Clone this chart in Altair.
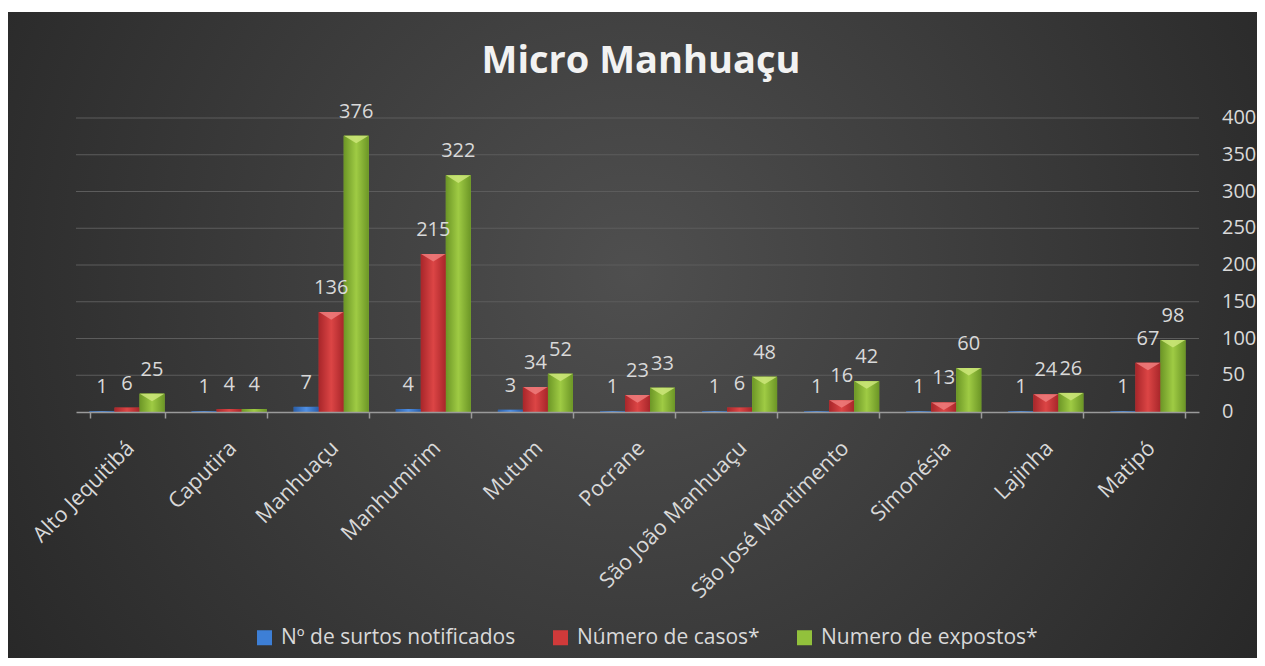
import altair as alt
import pandas as pd

municipios = ["Alto Jequitibá", "Caputira", "Manhuaçu", "Manhumirim", "Mutum", "Pocrane",
              "São João Manhuaçu", "São José Mantimento", "Simonésia", "Lajinha", "Matipó"]
series = ["Nº de surtos notificados", "Número de casos*", "Numero de expostos*"]
surtos = [1, 1, 7, 4, 3, 1, 1, 1, 1, 1, 1]
casos = [6, 4, 136, 215, 34, 23, 6, 16, 13, 24, 67]
expostos = [25, 4, 376, 322, 52, 33, 48, 42, 60, 26, 98]
y_ticks = [0, 50, 100, 150, 200, 250, 300, 350, 400]
title_text = "Micro Manhuaçu"

colors = ["#3d7fd6", "#d03a3a", "#92c13c"]
tops = ["#8dbaf2", "#ee7c7c", "#cde67a"]
grads = [
    ["#2a5ea8", "#4f8fe4", "#2a5ea8"],
    ["#a8262a", "#dc4545", "#a8262a"],
    ["#6c9626", "#9fcb44", "#6c9626"],
]

rows = []
for i, m in enumerate(municipios):
    for s, vals in zip(series, [surtos, casos, expostos]):
        rows.append({"municipio": m, "serie": s, "valor": vals[i]})
df = pd.DataFrame(rows)
one = pd.DataFrame({"k": [0]})
tick_df = pd.DataFrame({"valor": y_ticks})

FONT = "Open Sans"
TXT = "#d9d9d9"
PL, PT = 68, 110
W, H = 1123, 294
TOTW, TOTH = 1249, 650

x_axis = alt.Axis(title=None, labelAngle=-45, labelAlign="right", labelBaseline="top",
                  labelFont=FONT, labelFontSize=21.5, labelColor=TXT, labelPadding=19,
                  labelOffset=-4,
                  domainColor="#9a9a9a", domainWidth=1.5, tickColor="#9a9a9a",
                  tickWidth=1.5, tickSize=6, tickBand="extent", grid=False,
                  zindex=1, labelLimit=400, labelOverlap=False)
x_enc = alt.X("municipio:N", sort=municipios,
              scale=alt.Scale(domain=municipios, paddingInner=0.265, paddingOuter=0.1325),
              axis=x_axis)
xo_enc = alt.XOffset("serie:N", sort=series,
                     scale=alt.Scale(domain=series, paddingInner=0, paddingOuter=0))
y_enc = alt.Y("valor:Q", scale=alt.Scale(domain=[0, 400], nice=False), axis=None)

bg = alt.Chart(one).mark_rect(
    fill=alt.RadialGradient(gradient="radial", x1=0.5, y1=0.45, r1=0, x2=0.5, y2=0.45, r2=0.62,
                            stops=[alt.GradientStop(color="#4f4f4f", offset=0),
                                   alt.GradientStop(color="#262626", offset=1)])
).encode(x=alt.value(-PL), x2=alt.value(TOTW - PL), y=alt.value(4 - PT), y2=alt.value(TOTH - PT))

grid = alt.Chart(tick_df).transform_filter(alt.datum.valor > 0).mark_rule(
    color="#5c5c5c", strokeWidth=1).encode(y=y_enc, x=alt.value(0), x2=alt.value(W))

ylabels = alt.Chart(tick_df).mark_text(font=FONT, fontSize=20, color=TXT, align="left",
                                       baseline="middle").encode(
    y=y_enc, x=alt.value(W + 23), text=alt.Text("valor:Q"))

base = alt.Chart(df).mark_bar().encode(
    x=x_enc, xOffset=xo_enc, y=y_enc,
    color=alt.Color("serie:N", sort=series, scale=alt.Scale(domain=series, range=colors),
                    legend=alt.Legend(title=None, orient="none", direction="horizontal",
                                      legendX=178, legendY=509, symbolType="square",
                                      symbolSize=225, symbolStrokeWidth=0,
                                      labelFont=FONT, labelFontSize=21, labelColor=TXT,
                                      columnPadding=34, labelOffset=6, labelLimit=500)))

overlays = []
for s, g, t in zip(series, grads, tops):
    overlays.append(
        alt.Chart(df).transform_filter(alt.datum.serie == s).mark_bar(
            fill=alt.LinearGradient(gradient="linear", x1=0, y1=0, x2=1, y2=0,
                                    stops=[alt.GradientStop(color=g[0], offset=0),
                                           alt.GradientStop(color=g[1], offset=0.5),
                                           alt.GradientStop(color=g[2], offset=1)])
        ).encode(x=alt.X("municipio:N", sort=municipios), xOffset=xo_enc, y=y_enc)
    )
    overlays.append(
        alt.Chart(df).transform_filter(
            (alt.datum.serie == s) & (alt.datum.valor >= 12)
        ).mark_point(shape="M -1 0 L 1 0 L 0 0.62 Z", size=600, filled=True,
                     fill=t, fillOpacity=0.85, strokeWidth=0, opacity=1).encode(
            x=alt.X("municipio:N", sort=municipios), xOffset=xo_enc, y=y_enc)
    )

labels = alt.Chart(df).mark_text(font=FONT, fontSize=20, color=TXT, baseline="alphabetic",
                                 dy=-18).encode(
    x=alt.X("municipio:N", sort=municipios), xOffset=xo_enc, y=y_enc,
    text=alt.Text("valor:Q"))

title = alt.Chart(one).mark_text(text=title_text, font="Open Sans", fontSize=38, fontWeight="bold",
                                 color="#f2f2f2", baseline="alphabetic", align="center").encode(
    x=alt.value(641 - 8 - PL), y=alt.value(73 - 8 - PT))

chart = alt.layer(bg, grid, ylabels, base, *overlays, labels, title).properties(
    width=W, height=H,
    autosize=alt.AutoSizeParams(type="none"),
    padding={"left": PL, "top": PT, "right": TOTW - PL - W, "bottom": TOTH - PT - H},
    background="white",
).configure_view(stroke=None)

chart.save("out.html", embed_options={"renderer": "svg", "actions": False})
